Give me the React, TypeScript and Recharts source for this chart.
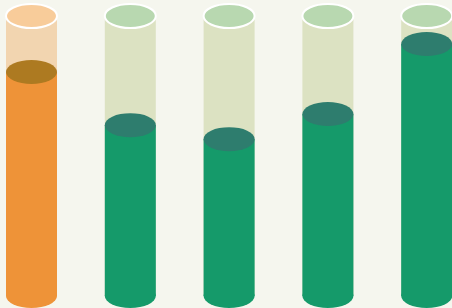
import React from 'react';
import { BarChart, Bar, XAxis, YAxis } from 'recharts';

const categories = ['A', 'B', 'C', 'D', 'E'];
const levels = [80, 61, 56, 65, 90];

const data = categories.map((name, i) => ({ name, level: levels[i] }));

const BG = '#f5f6ee';
const RY = 12;

const palette = [
  { fill: '#ee9338', top: '#ad7a21', track: '#f2d5b0', cap: '#f8cc9a' },
  { fill: '#159a6a', top: '#2e7d6e', track: '#dce2c2', cap: '#b8d8b0' },
];

const colorsFor = (index: number) => (index === 0 ? palette[0] : palette[1]);

const Track = (props: any) => {
  const { x, y, width, height, index } = props;
  const c = colorsFor(index);
  const cx = x + width / 2;
  return (
    <g>
      <rect x={x} y={y} width={width} height={height} fill={c.track} />
      <ellipse cx={cx} cy={y} rx={width / 2} ry={RY} fill={c.cap} stroke="#ffffff" strokeWidth={2} />
    </g>
  );
};

const Cylinder = (props: any) => {
  const { x, y, width, height, index } = props;
  const c = colorsFor(index);
  const cx = x + width / 2;
  return (
    <g>
      <ellipse cx={cx} cy={y + height} rx={width / 2} ry={RY} fill={c.fill} />
      <rect x={x} y={y} width={width} height={height} fill={c.fill} />
      <ellipse cx={cx} cy={y} rx={width / 2} ry={RY} fill={c.top} />
    </g>
  );
};

export default function App() {
  return (
    <div
      style={{
        position: 'fixed',
        left: 0,
        top: 0,
        width: 452,
        height: 308,
        overflow: 'hidden',
        background: BG,
      }}
    >
      <div style={{ position: 'absolute', left: -18, top: 0 }}>
        <BarChart
          width={494}
          height={308}
          data={data}
          margin={{ top: 16, right: 0, bottom: 12, left: 0 }}
        >
          <XAxis dataKey="name" hide />
          <YAxis hide domain={[0, 100]} />
          <Bar
            dataKey="level"
            barSize={51}
            background={<Track />}
            shape={<Cylinder />}
            isAnimationActive={false}
          />
        </BarChart>
      </div>
    </div>
  );
}
